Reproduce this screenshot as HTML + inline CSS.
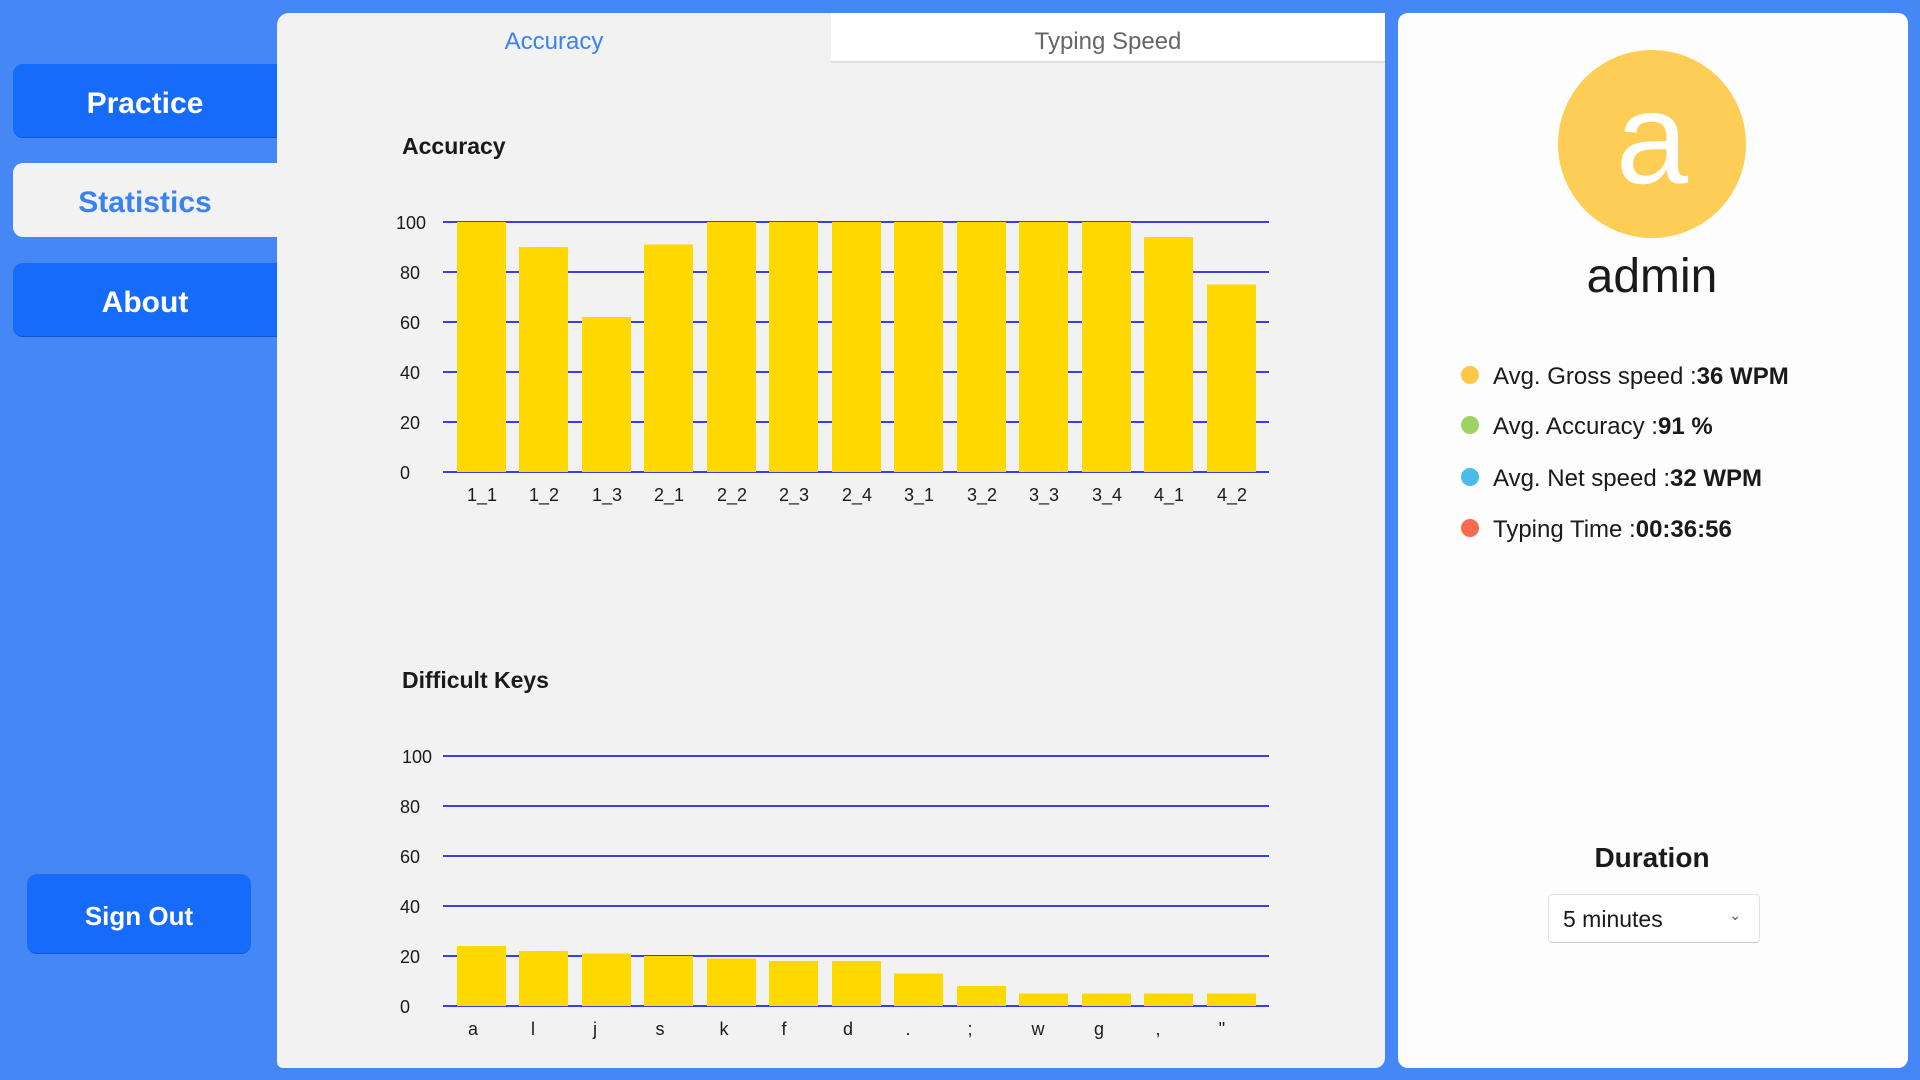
<!DOCTYPE html>
<html><head><meta charset="utf-8">
<style>
*{margin:0;padding:0;box-sizing:border-box}
body{width:1920px;height:1080px;background:#4487f5;position:relative;overflow:hidden;font-family:"Liberation Sans",sans-serif}
.abs{position:absolute}
.nav{position:absolute;left:13px;width:264px;height:74px;background:#166bfb;border-radius:10px 0 0 10px;color:#fff;font-weight:bold;font-size:30px;display:flex;align-items:center;justify-content:center;border-bottom:1px solid #1158d0;padding-top:6px}
.main{left:277px;top:13px;width:1108px;height:1055px;background:#f2f2f2;border-radius:12px 0 10px 6px}
.right{left:1398px;top:13px;width:510px;height:1055px;background:#fdfdfd;border-radius:10px}
.row{position:absolute;left:1493px;font-size:24px;color:#1a1a1a;line-height:30px}
.dot{position:absolute;left:1461px;width:18px;height:18px;border-radius:50%}
</style></head><body>
<div class="nav" style="top:64px">Practice</div>
<div class="nav" style="top:163px;background:#f2f2f2;color:#3a82f0;border:none">Statistics</div>
<div class="nav" style="top:263px">About</div>
<div class="nav" style="left:27px;top:874px;width:224px;height:80px;border-radius:10px;font-size:26px">Sign Out</div>

<div class="abs main"></div>
<div class="abs" style="left:831px;top:13px;width:554px;height:50px;background:#fff;border-bottom:2px solid #dcdcdc"></div>
<div class="abs" style="left:277px;top:28px;width:554px;text-align:center;font-size:24px;color:#3a82f0">Accuracy</div>
<div class="abs" style="left:831px;top:28px;width:554px;text-align:center;font-size:24px;color:#666">Typing Speed</div>

<div class="abs" style="left:402px;top:133px;font-size:23px;font-weight:bold;color:#1a1a1a">Accuracy</div>
<div class="abs" style="left:402px;top:667px;font-size:23px;font-weight:bold;color:#1a1a1a">Difficult Keys</div>

<svg class="abs" style="left:0;top:0" width="1920" height="1080" font-family="Liberation Sans, sans-serif" font-size="18" fill="#1a1a1a">
<g stroke="#0000ee" stroke-width="1.5">
<line x1="443" x2="1269" y1="222" y2="222"/><line x1="443" x2="1269" y1="272" y2="272"/><line x1="443" x2="1269" y1="322" y2="322"/><line x1="443" x2="1269" y1="372" y2="372"/><line x1="443" x2="1269" y1="422" y2="422"/><line x1="443" x2="1269" y1="472" y2="472"/>
<line x1="443" x2="1269" y1="756" y2="756"/><line x1="443" x2="1269" y1="806" y2="806"/><line x1="443" x2="1269" y1="856" y2="856"/><line x1="443" x2="1269" y1="906" y2="906"/><line x1="443" x2="1269" y1="956" y2="956"/><line x1="443" x2="1269" y1="1006" y2="1006"/>
</g>
<g text-anchor="end">
<text x="426" y="229">100</text><text x="420" y="279">80</text><text x="420" y="329">60</text><text x="420" y="379">40</text><text x="420" y="429">20</text><text x="410" y="479">0</text>
<text x="432" y="763">100</text><text x="420" y="813">80</text><text x="420" y="863">60</text><text x="420" y="913">40</text><text x="420" y="963">20</text><text x="410" y="1013">0</text>
</g>
<g fill="#ffd800">
<rect x="457" y="222" width="49" height="250"/>
<rect x="519" y="247" width="49" height="225"/>
<rect x="582" y="317" width="49" height="155"/>
<rect x="644" y="244.5" width="49" height="227.5"/>
<rect x="707" y="222" width="49" height="250"/>
<rect x="769" y="222" width="49" height="250"/>
<rect x="832" y="222" width="49" height="250"/>
<rect x="894" y="222" width="49" height="250"/>
<rect x="957" y="222" width="49" height="250"/>
<rect x="1019" y="222" width="49" height="250"/>
<rect x="1082" y="222" width="49" height="250"/>
<rect x="1144" y="237" width="49" height="235"/>
<rect x="1207" y="284.5" width="49" height="187.5"/>
<rect x="457" y="946" width="49" height="60"/>
<rect x="519" y="951" width="49" height="55"/>
<rect x="582" y="953.5" width="49" height="52.5"/>
<rect x="644" y="956" width="49" height="50"/>
<rect x="707" y="958.5" width="49" height="47.5"/>
<rect x="769" y="961" width="49" height="45"/>
<rect x="832" y="961" width="49" height="45"/>
<rect x="894" y="973.5" width="49" height="32.5"/>
<rect x="957" y="986" width="49" height="20"/>
<rect x="1019" y="993.5" width="49" height="12.5"/>
<rect x="1082" y="993.5" width="49" height="12.5"/>
<rect x="1144" y="993.5" width="49" height="12.5"/>
<rect x="1207" y="993.5" width="49" height="12.5"/>
</g>
<g text-anchor="middle">
<text x="482" y="501">1_1</text><text x="544" y="501">1_2</text><text x="607" y="501">1_3</text><text x="669" y="501">2_1</text><text x="732" y="501">2_2</text><text x="794" y="501">2_3</text><text x="857" y="501">2_4</text><text x="919" y="501">3_1</text><text x="982" y="501">3_2</text><text x="1044" y="501">3_3</text><text x="1107" y="501">3_4</text><text x="1169" y="501">4_1</text><text x="1232" y="501">4_2</text>
<text x="473" y="1035">a</text><text x="533" y="1035">l</text><text x="595" y="1035">j</text><text x="660" y="1035">s</text><text x="724" y="1035">k</text><text x="784" y="1035">f</text><text x="848" y="1035">d</text><text x="908" y="1035">.</text><text x="970" y="1035">;</text><text x="1038" y="1035">w</text><text x="1099" y="1035">g</text><text x="1158" y="1035">,</text><text x="1222" y="1035">"</text>
</g>
</svg>

<div class="abs right"></div>
<div class="abs" style="left:1558px;top:50px;width:188px;height:188px;border-radius:50%;background:#fecd55;color:#fff;font-size:130px;text-align:center;line-height:176px">a</div>
<div class="abs" style="left:1452px;top:249px;width:400px;text-align:center;font-size:48px;color:#1a1a1a">admin</div>
<div class="dot" style="top:366px;background:#fdc848"></div>
<div class="row" style="top:362px">Avg. Gross speed :<b>36 WPM</b></div>
<div class="dot" style="top:416px;background:#9ed264"></div>
<div class="row" style="top:412px">Avg. Accuracy :<b>91 %</b></div>
<div class="dot" style="top:468px;background:#48bde9"></div>
<div class="row" style="top:464px">Avg. Net speed :<b>32 WPM</b></div>
<div class="dot" style="top:519px;background:#fa6a50"></div>
<div class="row" style="top:515px">Typing Time :<b>00:36:56</b></div>
<div class="abs" style="left:1452px;top:842px;width:400px;text-align:center;font-size:28px;font-weight:bold;color:#1a1a1a">Duration</div>
<div class="abs" style="left:1548px;top:894px;width:212px;height:49px;background:#fff;border:1px solid #e2e2e2;border-bottom-color:#ccc;border-radius:4px;font-size:23px;color:#1a1a1a;padding:11px 0 0 14px">5 minutes<span style="position:absolute;right:18px;top:12px;font-size:14px;color:#555">&#8964;</span></div>
</body></html>
